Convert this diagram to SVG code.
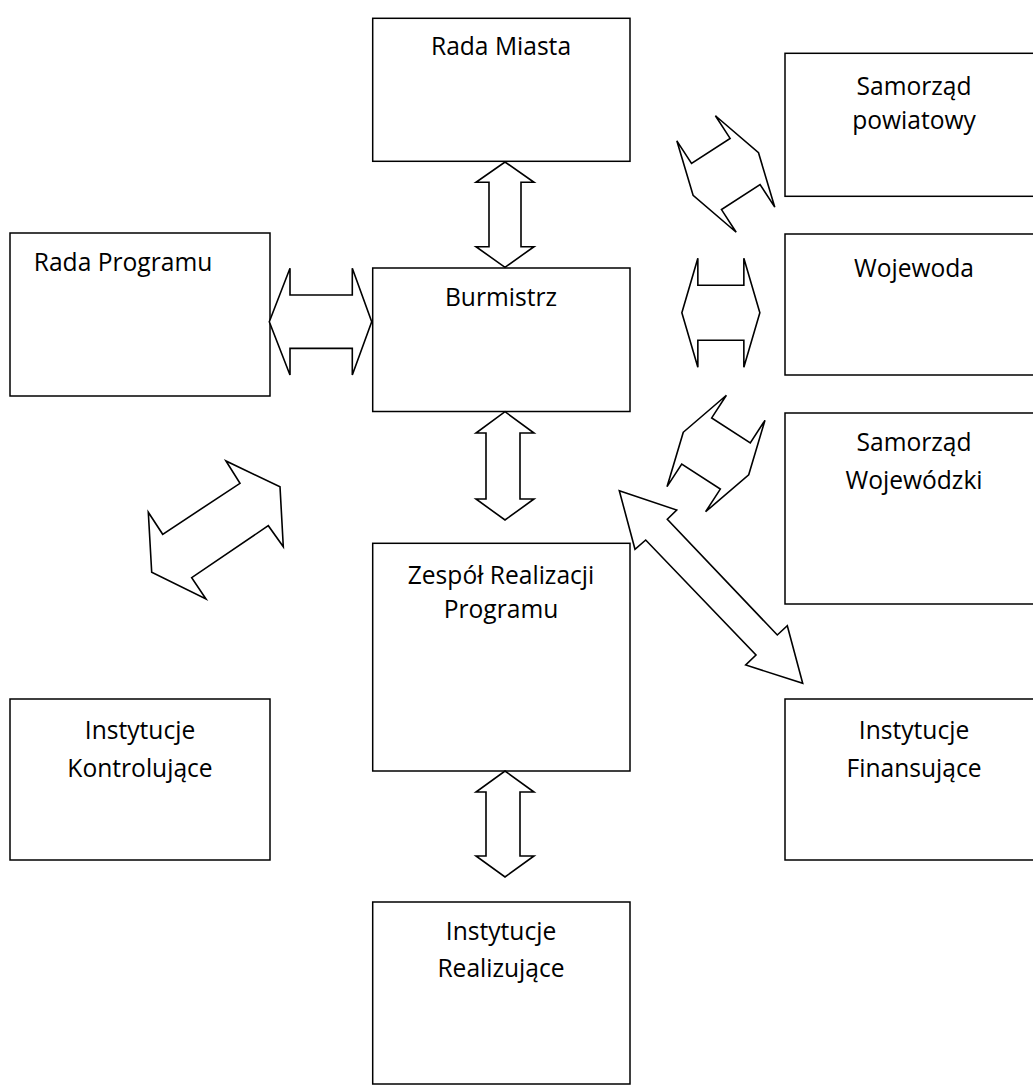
<svg xmlns="http://www.w3.org/2000/svg" width="1033" height="1086" viewBox="0 0 1033 1086">
<defs>
<style>
.box{fill:#fff;stroke:#000;stroke-width:1.5}
.arr{fill:#fff;stroke:#000;stroke-width:1.6;stroke-linejoin:miter}
.t{font-family:"Open Sans","Noto Sans","Liberation Sans",sans-serif;font-size:24.6px;fill:#000;text-anchor:middle}
</style>
<path id="harrow" d="M-39,0 L-23,-54.5 L-23,-27.5 L23,-27.5 L23,-54.5 L39,0 L23,54.5 L23,27.5 L-23,27.5 L-23,54.5 Z"/>
</defs>
<rect width="1033" height="1086" fill="#fff"/>

<g id="rada-miasta"><rect class="box" x="372.7" y="18.3" width="257.3" height="143"/><text class="t" x="501" y="55">Rada Miasta</text></g>
<g id="samorzad-powiatowy"><rect class="box" x="785" y="53.3" width="258" height="143"/><text class="t" x="914" y="95">Samorząd</text><text class="t" x="914" y="128.5">powiatowy</text></g>
<g id="wojewoda"><rect class="box" x="785" y="234" width="258" height="141"/><text class="t" x="914" y="277">Wojewoda</text></g>
<g id="rada-programu"><rect class="box" x="10" y="233" width="260" height="163"/><text class="t" x="123" y="271">Rada Programu</text></g>
<g id="burmistrz"><rect class="box" x="372.7" y="268" width="257.3" height="143.5"/><text class="t" x="501" y="306">Burmistrz</text></g>
<g id="samorzad-wojewodzki"><rect class="box" x="785" y="413" width="258" height="191"/><text class="t" x="914" y="451">Samorząd</text><text class="t" x="914" y="489">Wojewódzki</text></g>
<g id="zespol"><rect class="box" x="372.7" y="543.3" width="257.3" height="227.7"/><text class="t" x="501" y="583.5">Zespół Realizacji</text><text class="t" x="501" y="618">Programu</text></g>
<g id="instytucje-kontrolujace"><rect class="box" x="10" y="699" width="260" height="161"/><text class="t" x="140" y="739">Instytucje</text><text class="t" x="140" y="777">Kontrolujące</text></g>
<g id="instytucje-finansujace"><rect class="box" x="785" y="699" width="258" height="161"/><text class="t" x="914" y="739">Instytucje</text><text class="t" x="914" y="777">Finansujące</text></g>
<g id="instytucje-realizujace"><rect class="box" x="372.7" y="902" width="257.3" height="182"/><text class="t" x="501" y="940">Instytucje</text><text class="t" x="501" y="977">Realizujące</text></g>

<g id="connectors">
<polygon class="arr" points="505,162 534,182.3 521,182.3 521,246.7 534,246.7 505,267.3 476,246.7 489,246.7 489,182.3 476,182.3"/>
<polygon class="arr" points="505,411.7 534,433 520,433 520,499 534,499 505,520 476,499 486,499 486,433 476,433"/>
<polygon class="arr" points="505,771 534,792 520,792 520,856 534,856 505,877 476,856 486,856 486,792 476,792"/>
<polygon class="arr" points="269.3,321.7 290,268.3 290,295 352.3,295 352.3,268.3 371.7,321.7 352.3,375 352.3,348.4 290,348.4 290,375"/>
<use href="#harrow" class="arr" transform="translate(720.85,312.8)"/>
<use href="#harrow" class="arr" transform="translate(725.8,174) rotate(-33)"/>
<use href="#harrow" class="arr" transform="translate(716,453.5) rotate(33)"/>
<polygon class="arr" points="226,461 240,483.3 162.7,534.3 148.3,512.3 151.7,572.3 206,599 191.7,577.7 268.3,525.7 283.3,546.7 280,486.7"/>
<polygon class="arr" points="619.3,490.7 676.7,510 667.3,519.3 777.3,635 787.3,625.7 802.7,683.3 745.7,665 756,655 645.7,540 635,549.3"/>
</g>
</svg>
